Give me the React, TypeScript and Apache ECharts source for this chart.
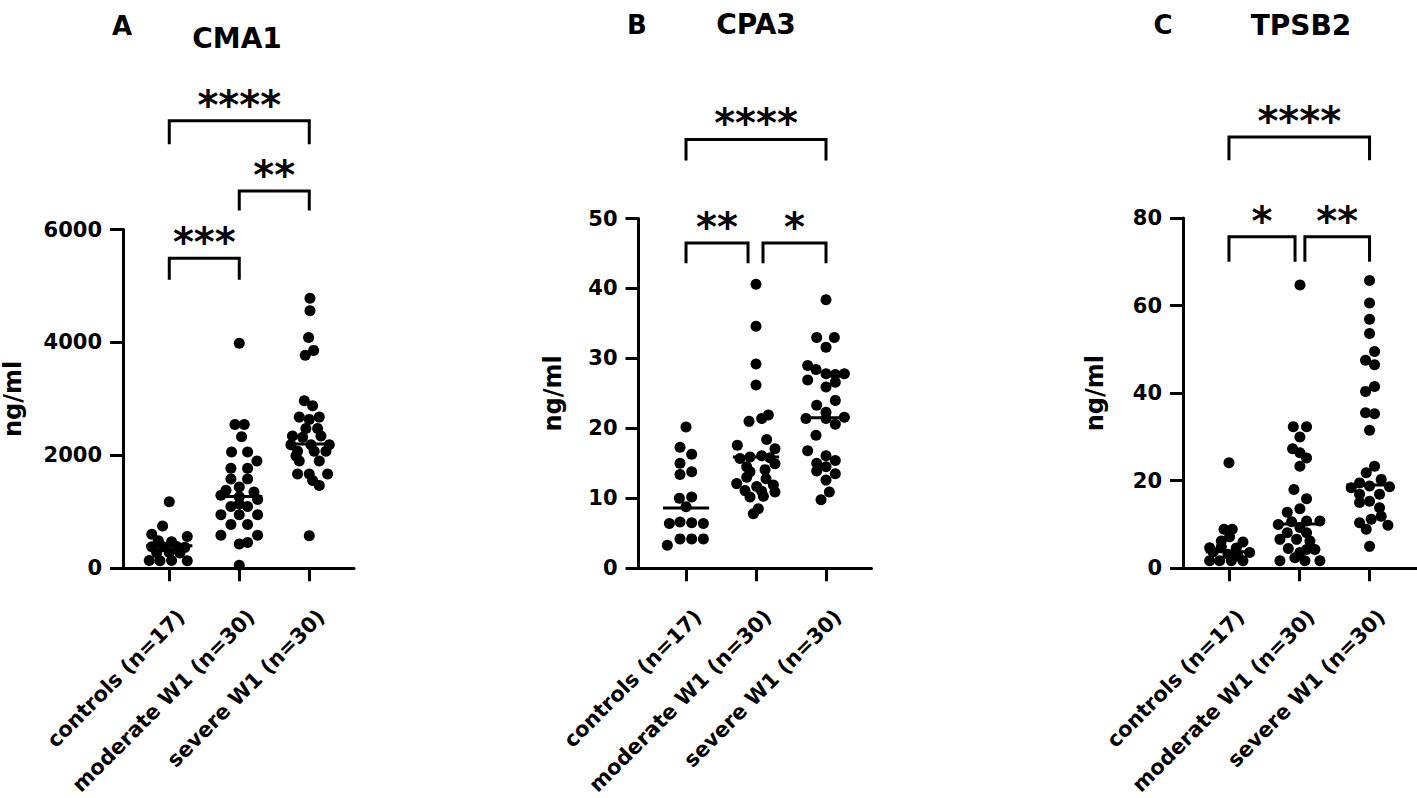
import React, { useEffect, useRef } from "react";
import * as echarts from "echarts";

// ---------- data ----------
const categories = ["controls (n=17)", "moderate W1 (n=30)", "severe W1 (n=30)"];
const panelLetters = ["A", "B", "C"];
const panelTitles = ["CMA1", "CPA3", "TPSB2"];
const yAxisName = "ng/ml";
const yMaxes = [6000, 50, 80];
const yIntervals = [2000, 10, 20];

// each point: [horizontal spread within the column (category units), value in ng/ml]
const cma1Controls = [
  [0, 1180], [-0.095, 747], [-0.25, 602], [0.257, 562], [-0.157, 487], [0.033, 470],
  [-0.25, 380], [-0.086, 380], [0.105, 385], [0.224, 370], [-0.18, 277], [0, 280],
  [0.152, 270], [-0.286, 138], [-0.133, 133], [0.033, 138], [0.257, 133],
];
const cma1Moderate = [
  [0, 3985], [-0.062, 2545], [0.071, 2545], [0.033, 2331], [-0.11, 2061], [0.119, 2061],
  [0.252, 1899], [-0.119, 1772], [0.119, 1772], [-0.119, 1582], [0.119, 1582], [0, 1439],
  [-0.19, 1380], [0.21, 1350], [-0.262, 1294], [0, 1265], [0.262, 1219], [0, 1140],
  [-0.119, 1093], [0.119, 1093], [-0.262, 948], [0, 948], [0.262, 948], [-0.119, 775],
  [0.119, 775], [-0.262, 584], [0.262, 584], [0, 429], [0.119, 458], [0, 55],
];
const cma1Severe = [
  [0.01, 4781], [0.01, 4561], [-0.01, 4089], [0.062, 3859], [-0.057, 3772], [-0.071, 2965],
  [0.048, 2879], [-0.143, 2677], [0, 2637], [0.143, 2677], [-0.048, 2476], [0.119, 2476],
  [-0.24, 2343], [-0.095, 2320], [0.167, 2343], [-0.262, 2187], [0.024, 2187], [0.286, 2187],
  [-0.167, 2072], [0.071, 2072], [0.238, 2072], [-0.19, 1990], [-0.143, 1899], [0.143, 1899],
  [-0.167, 1668], [0, 1668], [0.262, 1668], [0.048, 1553], [0.143, 1466], [0, 574],
];
const cma1Medians = [400, 1270, 2200];
// [from, to, bracket level, tip level, stars]
const cma1Brackets = [
  [0, 2, 7927, 7512, "****"],
  [1, 2, 6683, 6337, "**"],
  [0, 1, 5490, 5109, "***"],
];

const cpa3Controls = [
  [0, 20.2], [-0.086, 17.3], [0.081, 16.3], [-0.086, 15.0], [0.081, 13.8], [-0.086, 13.4],
  [-0.095, 10.0], [0.081, 10.2], [0, 8.8], [-0.238, 6.4], [-0.086, 6.6], [0.081, 6.5],
  [0.248, 6.4], [-0.086, 4.2], [0.081, 4.2], [0.248, 4.2], [-0.267, 3.3],
];
const cpa3Moderate = [
  [0, 40.6], [0, 34.6], [0, 29.2], [0, 26.2], [0.176, 21.9], [0.081, 21.4],
  [-0.1, 21.0], [0.152, 18.4], [-0.267, 17.6], [0.271, 17.1], [-0.229, 15.7], [-0.086, 15.9],
  [0.081, 16.1], [0.2, 15.8], [-0.133, 14.5], [0.271, 14.95], [-0.086, 13.8], [0.129, 14.1],
  [-0.133, 13.0], [0.143, 12.8], [-0.276, 12.1], [0.01, 11.7], [0.248, 11.9], [-0.157, 11.1],
  [0.081, 11.0], [0.271, 10.9], [-0.086, 10.2], [0.105, 10.3], [0.033, 8.5], [-0.038, 7.8],
];
const cpa3Severe = [
  [0, 38.4], [-0.133, 33.0], [0.119, 33.0], [0, 31.6], [-0.262, 29.0], [-0.143, 28.4],
  [0, 27.8], [0.133, 27.7], [0.262, 27.8], [-0.262, 26.9], [0.133, 26.6], [0, 25.9],
  [0.133, 24.0], [-0.133, 23.3], [0, 22.3], [-0.286, 21.4], [0, 21.4], [0.262, 21.6],
  [0.133, 20.6], [-0.143, 19.0], [-0.262, 16.8], [0, 16.1], [0.133, 15.4], [-0.133, 15.0],
  [0, 14.5], [0.133, 13.5], [-0.133, 13.9], [0, 12.6], [0.048, 10.9], [-0.071, 9.8],
];
const cpa3Medians = [8.6, 15.9, 21.5];
const cpa3Brackets = [
  [0, 2, 61.3, 58.3, "****"],
  [0, 0.886, 46.5, 43.6, "**"],
  [1.1, 2, 46.5, 43.6, "*"],
];

const tpsb2Controls = [
  [0, 24.1], [-0.071, 8.9], [0.047, 8.9], [0.009, 7.2], [-0.109, 6.2], [0.199, 6.0],
  [-0.275, 4.7], [-0.109, 4.9], [0.104, 4.6], [-0.227, 3.7], [0.294, 3.6], [0.128, 2.8],
  [-0.014, 3.2], [-0.275, 1.7], [-0.133, 1.7], [0.033, 1.7], [0.199, 1.7],
];
const tpsb2Moderate = [
  [0.01, 64.7], [-0.085, 32.3], [0.104, 32.3], [0.009, 30.0], [-0.095, 27.3], [0.009, 26.4],
  [0.104, 25.2], [0.009, 23.3], [-0.076, 18.0], [0.104, 15.9], [-0.171, 12.8], [0.009, 13.6],
  [-0.299, 10.0], [-0.109, 10.6], [0.104, 10.8], [0.294, 10.8], [-0.171, 8.1], [0.104, 8.1],
  [0.009, 9.3], [-0.275, 6.6], [-0.038, 6.6], [0.152, 6.2], [-0.156, 4.5], [0.104, 4.3],
  [0.223, 4.3], [0.009, 3.6], [-0.275, 1.7], [-0.062, 2.4], [0.081, 1.7], [0.294, 1.7],
];
const tpsb2Severe = [
  [0, 65.7], [0, 60.6], [0, 56.9], [0, 53.6], [0.071, 49.5], [-0.057, 47.5],
  [0.071, 46.5], [0.071, 41.5], [-0.057, 40.4], [-0.057, 35.5], [0.071, 35.3], [0, 31.5],
  [0.071, 23.3], [-0.047, 21.8], [0.166, 20.3], [-0.142, 19.5], [-0.261, 18.4], [0, 18.8],
  [0.284, 18.6], [-0.142, 16.9], [0.142, 16.9], [-0.142, 15.0], [0, 15.3], [0.142, 13.8],
  [0.166, 11.9], [0.024, 11.2], [-0.142, 10.4], [0.261, 9.8], [-0.047, 8.9], [0, 5.0],
];
const tpsb2Medians = [3.8, 10.1, 19.0];
const tpsb2Brackets = [
  [0, 2, 98.5, 93.2, "****"],
  [0, 0.94, 75.7, 70.0, "*"],
  [1.08, 2, 75.7, 70.0, "**"],
];

const panelGroups = [
  [cma1Controls, cma1Moderate, cma1Severe],
  [cpa3Controls, cpa3Moderate, cpa3Severe],
  [tpsb2Controls, tpsb2Moderate, tpsb2Severe],
];
const panelMedians = [cma1Medians, cpa3Medians, tpsb2Medians];
const panelBrackets = [cma1Brackets, cpa3Brackets, tpsb2Brackets];

// ---------- layout / style ----------
const FONT = '"DejaVu Sans", "Liberation Sans", Arial, sans-serif';
const INK = "#000";
const layouts = [
  { left: 123, top: 229.5, width: 231, height: 347, xMin: -0.661, xMax: 2.639, nameGap: 98, letter: [122, 26], title: [237, 38] },
  { left: 638.5, top: 218.5, width: 233, height: 350.5, xMin: -0.679, xMax: 2.65, nameGap: 74, letter: [637, 25], title: [756, 24] },
  { left: 1183, top: 218, width: 234, height: 351, xMin: -0.654, xMax: 2.675, nameGap: 76, letter: [1163, 25], title: [1301, 25] },
];

function buildOption() {
  const grid: any[] = [];
  const xAxis: any[] = [];
  const yAxis: any[] = [];
  const series: any[] = [];
  layouts.forEach((L, i) => {
    grid.push({ left: L.left, top: L.top, width: L.width, height: L.height, containLabel: false });
    xAxis.push({
      gridIndex: i,
      type: "value",
      min: L.xMin,
      max: L.xMax,
      splitLine: { show: false },
      axisLine: { show: true, onZero: false, lineStyle: { color: INK, width: 3 } },
      axisTick: { show: true, customValues: [0, 1, 2], length: 13, lineStyle: { color: INK, width: 3 } },
      axisLabel: {
        show: true,
        customValues: [0.17, 1.17, 2.17],
        rotate: 45,
        margin: 45,
        color: INK,
        fontSize: 21,
        fontWeight: "bold",
        fontFamily: FONT,
        formatter: (v: number) => categories[Math.round(v)] ?? "",
      },
    });
    yAxis.push({
      gridIndex: i,
      type: "value",
      min: 0,
      max: yMaxes[i],
      interval: yIntervals[i],
      splitLine: { show: false },
      axisLine: { show: true, onZero: false, lineStyle: { color: INK, width: 3 } },
      axisTick: { show: true, length: 13, lineStyle: { color: INK, width: 3 } },
      axisLabel: {
        margin: 21,
        color: INK,
        fontSize: 21,
        fontWeight: "bold",
        fontFamily: FONT,
        formatter: (v: number) => String(v),
      },
      name: yAxisName,
      nameLocation: "middle",
      nameRotate: 90,
      nameGap: L.nameGap,
      nameTextStyle: { color: INK, fontSize: 24, fontWeight: "bold", fontFamily: FONT },
    });

    panelGroups[i].forEach((pts, k) => {
      series.push({
        type: "scatter",
        xAxisIndex: i,
        yAxisIndex: i,
        symbol: "circle",
        symbolSize: 11,
        itemStyle: { color: INK, opacity: 1 },
        data: pts.map(([j, v]) => [k + j, v]),
        z: 3,
      });
      series.push({
        type: "line",
        xAxisIndex: i,
        yAxisIndex: i,
        symbol: "none",
        lineStyle: { color: INK, width: 3 },
        data: [
          [k - 0.33, panelMedians[i][k]],
          [k + 0.33, panelMedians[i][k]],
        ],
        z: 4,
      });
    });

    panelBrackets[i].forEach((b: any[]) => {
      const [x1, x2, level, tip] = b;
      series.push({
        type: "line",
        xAxisIndex: i,
        yAxisIndex: i,
        symbol: "none",
        clip: false,
        lineStyle: { color: INK, width: 3, cap: "butt", join: "miter" },
        data: [
          [x1, tip],
          [x1, level],
          [x2, level],
          [x2, tip],
        ],
        z: 4,
      });
    });
  });

  return {
    animation: false,
    backgroundColor: "#fff",
    grid,
    xAxis,
    yAxis,
    series,
  };
}

export default function App() {
  const ref = useRef<HTMLDivElement>(null);
  useEffect(() => {
    const el = ref.current;
    if (!el) return;
    const chart = echarts.init(el, null, { renderer: "svg" });
    chart.setOption(buildOption());

    const textStyle = (text: string, size: number) => ({
      text,
      fill: INK,
      fontSize: size,
      fontWeight: "bold",
      fontFamily: FONT,
      font: `bold ${size}px ${FONT}`,
      align: "center",
      verticalAlign: "middle",
      textAlign: "center",
      textVerticalAlign: "middle",
    });

    const graphics: any[] = [];
    layouts.forEach((L, i) => {
      graphics.push({ type: "text", x: L.letter[0], y: L.letter[1], style: textStyle(panelLetters[i], 26) });
      graphics.push({ type: "text", x: L.title[0], y: L.title[1], style: textStyle(panelTitles[i], 28) });
      panelBrackets[i].forEach((b: any[]) => {
        const [x1, x2, level, , stars] = b;
        const pt = chart.convertToPixel({ gridIndex: i } as any, [(x1 + x2) / 2, level]) as number[];
        graphics.push({ type: "text", x: pt[0], y: pt[1] - 16, style: textStyle(stars, 40) });
      });
    });
    chart.setOption({ graphic: graphics });

    return () => chart.dispose();
  }, []);

  return (
    <div
      ref={ref}
      style={{ position: "absolute", left: 0, top: 0, width: 1417, height: 798, background: "#fff" }}
    />
  );
}
